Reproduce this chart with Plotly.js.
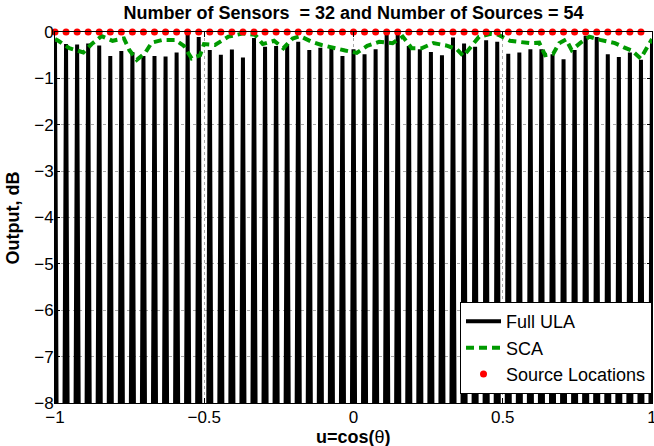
<!DOCTYPE html>
<html>
<head>
<meta charset="utf-8">
<script src="https://cdn.plot.ly/plotly-3.0.1.min.js"></script>
<style>
  html, body { margin: 0; padding: 0; background: #fff; }
  #chart { width: 654px; height: 446px; }
</style>
</head>
<body>
<div id="chart"></div>
<script>
// Source directions in u = cos(theta)
const sourceU = [
  -1.0000, -0.9630, -0.9259, -0.8889, -0.8519, -0.8148, -0.7778, -0.7407, -0.7037, -0.6667,
  -0.6296, -0.5926, -0.5556, -0.5185, -0.4815, -0.4444, -0.4074, -0.3704, -0.3333, -0.2963,
  -0.2593, -0.2222, -0.1852, -0.1481, -0.1111, -0.0741, -0.0370, 0.0000, 0.0370, 0.0741,
  0.1111, 0.1481, 0.1852, 0.2222, 0.2593, 0.2963, 0.3333, 0.3704, 0.4074, 0.4444,
  0.4815, 0.5185, 0.5556, 0.5926, 0.6296, 0.6667, 0.7037, 0.7407, 0.7778, 0.8148,
  0.8519, 0.8889, 0.9259, 0.9630
];
const sourceDb = [
  0, 0, 0, 0, 0, 0, 0, 0, 0, 0, 0, 0, 0, 0, 0, 0, 0, 0, 0, 0, 0, 0, 0, 0, 0, 0, 0,
  0, 0, 0, 0, 0, 0, 0, 0, 0, 0, 0, 0, 0, 0, 0, 0, 0, 0, 0, 0, 0, 0, 0, 0, 0, 0, 0
];

// Full ULA spectrum: peak positions and peak levels (dB)
const ulaPeakU = [
  -1.0000, -0.9630, -0.9259, -0.8889, -0.8519, -0.8148, -0.7778, -0.7407, -0.7037, -0.6667,
  -0.6296, -0.5926, -0.5556, -0.5185, -0.4815, -0.4444, -0.4074, -0.3704, -0.3333, -0.2963,
  -0.2593, -0.2222, -0.1852, -0.1481, -0.1111, -0.0741, -0.0370, 0.0000, 0.0370, 0.0741,
  0.1111, 0.1481, 0.1852, 0.2222, 0.2593, 0.2963, 0.3333, 0.3704, 0.4074, 0.4444,
  0.4815, 0.5185, 0.5556, 0.5926, 0.6296, 0.6667, 0.7037, 0.7407, 0.7778, 0.8148,
  0.8519, 0.8889, 0.9259, 0.9630, 1.0000
];
const ulaPeakDb = [
  -0.20, -0.26, -0.27, -0.25, -0.29, -0.52, -0.41, -0.43, -0.52, -0.52,
  -0.53, -0.44, -0.03, -0.11, -0.39, -0.49, -0.38, -0.55, -0.13, -0.32,
  -0.30, -0.26, -0.21, -0.39, -0.34, -0.32, -0.52, -0.37, -0.48, -0.37,
  -0.05, -0.05, -0.30, -0.37, -0.43, -0.50, -0.12, -0.25, -0.32, -0.18,
  -0.21, -0.47, -0.44, -0.37, -0.37, -0.48, -0.59, -0.39, -0.08, -0.11,
  -0.48, -0.54, -0.44, -0.60, -0.20
];
// Level reached between adjacent peaks (below the visible range)
const ulaNullDb = -28;

// SCA spectrum
const scaU = [
  -1.000, -0.989, -0.952, -0.905, -0.877, -0.844, -0.807, -0.769, -0.751, -0.726,
  -0.698, -0.676, -0.639, -0.598, -0.568, -0.542, -0.514, -0.501, -0.464, -0.419,
  -0.369, -0.330, -0.304, -0.266, -0.235, -0.204, -0.179, -0.140, -0.107, -0.068,
  -0.028, 0.011, 0.046, 0.086, 0.131, 0.165, 0.195, 0.228, 0.267, 0.310,
  0.346, 0.368, 0.396, 0.421, 0.460, 0.485, 0.524, 0.558, 0.591, 0.622,
  0.642, 0.669, 0.689, 0.712, 0.731, 0.761, 0.790, 0.826, 0.876, 0.906,
  0.932, 0.962, 0.984, 1.000
];
const scaDb = [
  -0.15, -0.19, -0.35, -0.44, -0.26, -0.09, -0.19, -0.14, -0.39, -0.60,
  -0.45, -0.23, -0.17, -0.17, -0.30, -0.57, -0.50, -0.26, -0.28, -0.10,
  -0.03, -0.06, -0.26, -0.19, -0.35, -0.14, -0.09, -0.21, -0.28, -0.35,
  -0.40, -0.45, -0.30, -0.21, -0.24, -0.10, -0.35, -0.35, -0.24, -0.29,
  -0.37, -0.52, -0.30, -0.10, -0.04, -0.06, -0.19, -0.21, -0.24, -0.23,
  -0.50, -0.47, -0.24, -0.16, -0.39, -0.23, -0.10, -0.17, -0.24, -0.33,
  -0.40, -0.57, -0.33, -0.15
];

const xTicks = [-1, -0.5, 0, 0.5, 1];
const yTicks = [0, -1, -2, -3, -4, -5, -6, -7, -8];

// Each ULA peak is drawn as a narrow lobe that falls to the null level halfway to its neighbours
const halfSpacing = (sourceU[1] - sourceU[0]) / 2;
const ulaX = [], ulaY = [];
ulaPeakU.forEach((u, i) => {
  ulaX.push(u - halfSpacing, u, u + halfSpacing);
  ulaY.push(ulaNullDb, ulaPeakDb[i], ulaNullDb);
});

const FONT = 'Liberation Sans, Arial, Helvetica, sans-serif';
const minus = v => String(v).replace('-', '\u2212');

const traces = [
  {
    x: ulaX, y: ulaY, type: 'scatter', mode: 'lines', name: 'Full ULA',
    line: { color: '#000000', width: 4 }
  },
  {
    x: scaU, y: scaDb, type: 'scatter', mode: 'lines', name: 'SCA',
    line: { color: '#009a00', width: 4, dash: '8px,5px' }
  },
  {
    x: sourceU, y: sourceDb, type: 'scatter', mode: 'markers', name: 'Source Locations',
    marker: { color: '#ff0000', size: 7 }, cliponaxis: false
  }
];

const axisCommon = {
  showline: true, linecolor: '#000', linewidth: 1, mirror: 'ticks',
  ticks: 'inside', ticklen: 5, tickcolor: '#000', tickwidth: 1,
  showgrid: true, gridcolor: '#a8a8a8', griddash: 'dot', gridwidth: 1,
  zeroline: false, ticklabeloverflow: 'allow',
  tickfont: { family: FONT, size: 17, color: '#000' }
};

const layout = {
  width: 654, height: 446,
  margin: { l: 55, r: 2, t: 32, b: 43 },
  paper_bgcolor: '#fff', plot_bgcolor: '#fff',
  showlegend: true,
  title: {
    text: 'Number of Sensors\u00a0 = 32 and Number of Sources = 54',
    font: { family: FONT, size: 18, color: '#000', weight: 'bold' },
    x: 0.5, xref: 'paper', y: 0.972, yref: 'container', yanchor: 'middle'
  },
  xaxis: Object.assign({}, axisCommon, {
    range: [-1, 1], tickvals: xTicks, ticktext: xTicks.map(minus),
    ticklabelstandoff: -1
  }),
  yaxis: Object.assign({}, axisCommon, {
    range: [-8, 0], tickvals: yTicks, ticktext: yTicks.map(minus),
    ticklabelstandoff: -3
  }),
  // Axis titles
  annotations: [
    {
      text: '<b>u=cos(</b>θ<b>)</b>', xref: 'paper', yref: 'paper',
      x: 0.5, y: -0.0916, xanchor: 'center', yanchor: 'middle', showarrow: false,
      font: { family: FONT, size: 18, color: '#000' }
    },
    {
      text: '<b>Output, dB</b>', xref: 'paper', yref: 'paper',
      x: -0.0704, y: 0.5, xanchor: 'center', yanchor: 'middle', textangle: -90, showarrow: false,
      font: { family: FONT, size: 18, color: '#000' }
    }
  ],
  legend: {
    x: 1, xanchor: 'right', y: 0.024, yanchor: 'bottom',
    bgcolor: '#fff', bordercolor: '#000', borderwidth: 1,
    font: { family: FONT, size: 18, color: '#000' },
    itemwidth: 35, tracegroupgap: 0
  }
};

Plotly.newPlot('chart', traces, layout, { displayModeBar: false, staticPlot: true });
</script>
</body>
</html>
